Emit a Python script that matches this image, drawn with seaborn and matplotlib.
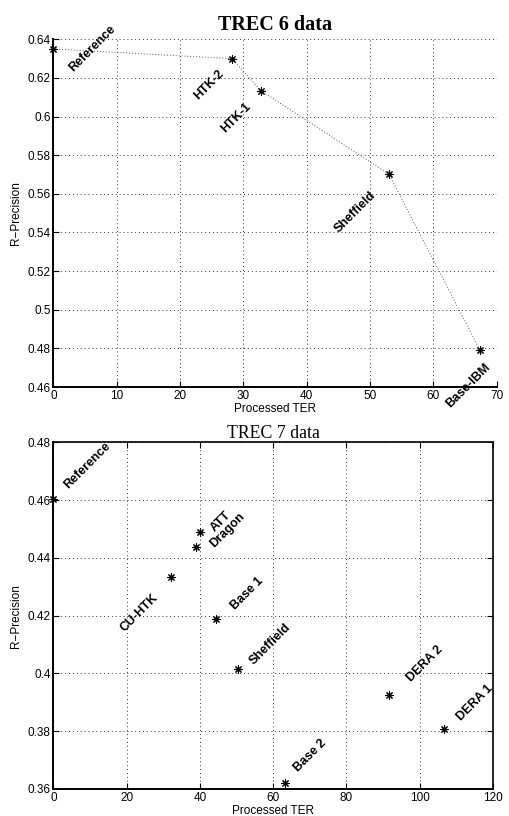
import matplotlib
matplotlib.use("Agg")
import matplotlib.pyplot as plt
import seaborn as sns
import pandas as pd

# TREC 6 systems: processed term error rate vs. retrieval R-precision
trec6_systems = ["Reference", "HTK-2", "HTK-1", "Sheffield", "Base-IBM"]
trec6_ter = [0.0, 28.2, 32.8, 53.0, 67.4]
trec6_rprec = [0.635, 0.630, 0.6134, 0.5702, 0.479]

# TREC 7 systems
trec7_systems = ["Reference", "ATT", "Dragon", "CU-HTK", "Base 1",
                 "Sheffield", "DERA 2", "DERA 1", "Base 2"]
trec7_ter = [0.0, 40.1, 39.0, 32.1, 44.4, 50.4, 91.7, 106.8, 63.3]
trec7_rprec = [0.4604, 0.4488, 0.4437, 0.4333, 0.4188,
               0.4016, 0.3926, 0.3807, 0.3621]

trec6_xticks = [0, 10, 20, 30, 40, 50, 60, 70]
trec6_yticks = [0.46, 0.48, 0.50, 0.52, 0.54, 0.56, 0.58, 0.60, 0.62, 0.64]
trec7_xticks = [0, 20, 40, 60, 80, 100, 120]
trec7_yticks = [0.36, 0.38, 0.40, 0.42, 0.44, 0.46, 0.48]

# label placement (pixel offsets of each label centre from its point)
trec6_offsets = [(39, 0), (-23, -26), (-25, -27), (-34, -38), (-12, -35)]
trec7_offsets = [(34, 33), (21, 11), (31, 17), (-32, -36), (31, 26),
                 (32, 25), (36, 31), (30, 26), (25, 27)]

sns.set_theme(style="ticks")
plt.rcParams["font.family"] = ["Liberation Sans", "DejaVu Sans"]
plt.rcParams["xtick.direction"] = "in"
plt.rcParams["ytick.direction"] = "in"
for key in ("text.color", "axes.labelcolor", "xtick.color", "ytick.color",
            "axes.edgecolor"):
    plt.rcParams[key] = "black"

df6 = pd.DataFrame({"ter": trec6_ter, "rprec": trec6_rprec, "system": trec6_systems})
df7 = pd.DataFrame({"ter": trec7_ter, "rprec": trec7_rprec, "system": trec7_systems})

fig = plt.figure(figsize=(5.09, 8.16), dpi=100)
ax1 = fig.add_axes([0.1048, 0.5257, 0.8707, 0.4261])
ax2 = fig.add_axes([0.1048, 0.0331, 0.8634, 0.4249])

star = (8, 2, 0)
tick_fs = 8.5
label_fs = 9


def style_axes(ax, xticks, yticks, boxed):
    ax.set_xlim(xticks[0], xticks[-1])
    ax.set_ylim(yticks[0], yticks[-1])
    ax.set_xticks(xticks)
    ax.set_yticks(yticks)
    ax.set_xticklabels([f"{v:g}" for v in xticks], fontsize=tick_fs, color="black")
    ax.set_yticklabels([f"{v:g}" for v in yticks], fontsize=tick_fs, color="black")
    ax.grid(True, linestyle=(0, (1, 3)), color="0.2", linewidth=0.7)
    ax.set_axisbelow(True)
    ax.tick_params(length=4, width=0.8, pad=2, colors="black",
                   top=boxed, right=boxed)
    for side in ("left", "bottom"):
        ax.spines[side].set_linewidth(1.4)
        ax.spines[side].set_color("black")
    for side in ("top", "right"):
        ax.spines[side].set_visible(boxed)
        ax.spines[side].set_linewidth(1.2)
        ax.spines[side].set_color("black")
    ax.set_xlabel("Processed TER", fontsize=tick_fs, labelpad=1, color="black")
    ax.set_ylabel("R\u2212Precision", fontsize=tick_fs, labelpad=4, color="black")


def label_points(ax, df, offsets):
    for (x, y, name), (dx, dy) in zip(df[["ter", "rprec", "system"]].values, offsets):
        ax.annotate(name, (x, y), xytext=(dx, dy), textcoords="offset pixels",
                    rotation=45, rotation_mode="anchor", ha="center", va="center",
                    fontsize=label_fs, fontweight="bold", color="black",
                    annotation_clip=False)


# TREC 6: dotted trend through the systems plus asterisk markers
sns.lineplot(data=df6, x="ter", y="rprec", sort=False, ax=ax1, color="0.35",
             linestyle=(0, (1, 2)), linewidth=0.7)
sns.scatterplot(data=df6, x="ter", y="rprec", ax=ax1, marker=star, s=28,
                color="black", linewidth=0.8, zorder=3, clip_on=False)
style_axes(ax1, trec6_xticks, trec6_yticks, boxed=False)
label_points(ax1, df6, trec6_offsets)
ax1.set_title("TREC 6 data", family=["Liberation Serif"], fontweight="bold",
              fontsize=14.5, pad=7, color="black")

# TREC 7: markers only
sns.scatterplot(data=df7, x="ter", y="rprec", ax=ax2, marker=star, s=28,
                color="black", linewidth=0.8, zorder=3, clip_on=False)
style_axes(ax2, trec7_xticks, trec7_yticks, boxed=True)
label_points(ax2, df7, trec7_offsets)
ax2.set_title("TREC 7 data", family=["Liberation Serif"], fontsize=12.8, pad=3,
              color="black")

fig.savefig("out.png", dpi=100)
